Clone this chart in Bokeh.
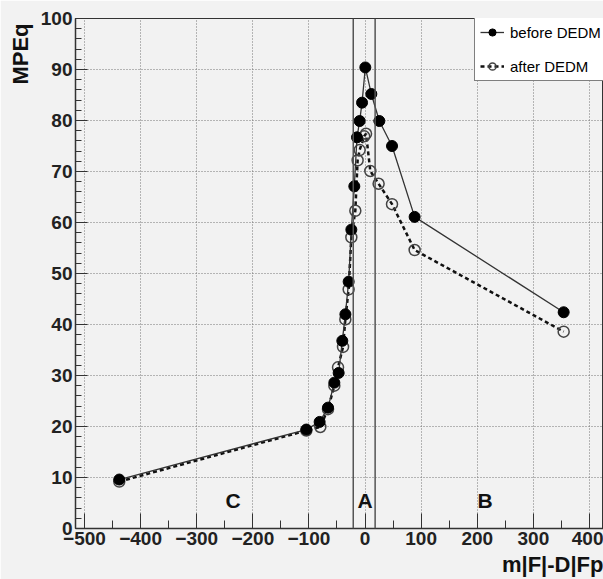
from bokeh.plotting import figure
from bokeh.models import (Range1d, SingleIntervalTicker, Span, Legend, LegendItem,
                          Title, ColumnDataSource)
from bokeh.core.properties import value
from bokeh.embed import file_html
from bokeh.resources import INLINE

# ---- data ----
before_x = [-438, -104.6, -80.9, -66, -54.7, -47, -40.5, -35, -29.2, -24.4,
            -19.1, -14.3, -9.6, -5.3, 0.5, 11.2, 25.5, 48.1, 88.4, 354]
before_y = [9.6, 19.4, 20.9, 23.7, 28.6, 30.5, 36.8, 42.0, 48.4, 58.6,
            67.1, 76.7, 79.9, 83.5, 90.4, 85.2, 79.9, 75.0, 61.1, 42.4]

after_x = [-438, -104.6, -79.7, -66, -54.7, -48.1, -39.2, -35.1, -29.2, -24.4,
           -17.3, -13.2, -9.6, -1.5, 1.8, 9.4, 24.2, 48.1, 88.4, 354]
after_y = [9.2, 19.2, 19.9, 23.4, 28.0, 31.6, 35.6, 41.0, 46.9, 57.1,
           62.3, 72.2, 74.2, 76.9, 77.4, 70.1, 67.6, 63.6, 54.6, 38.6]

region_bounds = [-21, 18]
region_names = ["C", "A", "B"]
region_label_x = [-235, 0, 214]
region_label_y = [5.5, 5.5, 5.5]

BG = "#f2f2f2"
FONT = "Liberation Sans"

p = figure(width=603, height=579, x_range=Range1d(-516, 425), y_range=Range1d(0, 100),
           output_backend="svg", toolbar_location=None,
           min_border_left=75, min_border_right=0, min_border_top=18, min_border_bottom=51)
p.background_fill_color = BG
p.border_fill_color = BG
p.outline_line_color = "#333333"
p.outline_line_width = 1

# axes
p.xaxis.ticker = SingleIntervalTicker(interval=100, num_minor_ticks=2)
p.yaxis.ticker = SingleIntervalTicker(interval=10, num_minor_ticks=5)
for ax in (p.xaxis, p.yaxis):
    ax.major_label_text_font = FONT
    ax.major_label_text_font_style = "bold"
    ax.major_label_text_font_size = "19px"
    ax.major_label_text_color = "#222222"
    ax.major_tick_out = 0
    ax.minor_tick_out = 0
    ax.axis_line_color = "#333333"
    ax.axis_line_width = 1.5
    ax.major_tick_line_color = "#333333"
    ax.minor_tick_line_color = "#333333"
    ax.major_label_standoff = 3
p.xaxis.major_tick_in = 15
p.xaxis.minor_tick_in = 8
p.yaxis.major_tick_in = 12
p.yaxis.minor_tick_in = 6

# grid
for g in (p.xgrid, p.ygrid):
    g.grid_line_color = "#777777"
    g.grid_line_dash = "1 2"
    g.grid_line_width = 1

# region boundaries
for b in region_bounds:
    p.add_layout(Span(location=b, dimension="height", line_color="#555555", line_width=1.5))

# series
src_b = ColumnDataSource(dict(x=before_x, y=before_y))
src_a = ColumnDataSource(dict(x=after_x, y=after_y))

la = p.line("x", "y", source=src_a, line_color="#111111", line_width=2.5, line_dash="4 3")
ma = p.scatter("x", "y", source=src_a, marker="circle", size=11, line_color="#444444",
               line_width=1.5, fill_alpha=0)
lb = p.line("x", "y", source=src_b, line_color="#333333", line_width=1.3)
mb = p.scatter("x", "y", source=src_b, marker="circle", size=11, line_color="black",
               fill_color="black")

# region labels
p.text(x=region_label_x, y=region_label_y, text=region_names,
       text_font=value(FONT), text_font_style="bold", text_font_size="21px",
       text_color="#111111", text_align="center", text_baseline="middle")

# legend
legend = Legend(items=[LegendItem(label="before DEDM", renderers=[lb, mb]),
                       LegendItem(label="after DEDM", renderers=[la, ma])],
                location=(399, 447))
legend.background_fill_color = "white"
legend.background_fill_alpha = 1
legend.border_line_color = "black"
legend.border_line_width = 1
legend.label_text_font = FONT
legend.label_text_font_size = "15px"
legend.label_text_color = "black"
legend.glyph_width = 24
legend.glyph_height = 18
legend.label_height = 18
legend.label_standoff = 6
legend.padding = 5
legend.spacing = 16
legend.margin = 0
p.add_layout(legend)

# axis titles
p.add_layout(Title(text="m|F|-D|Fp", align="right", text_font=FONT, text_font_style="bold",
                   text_font_size="22px", text_color="#111111", standoff=5), "below")
p.add_layout(Title(text="MPEq", align="right", text_font=FONT, text_font_style="bold",
                   text_font_size="22px", text_color="#111111", standoff=9, offset=5), "left")

open("out.html", "w").write(file_html(p, INLINE))
